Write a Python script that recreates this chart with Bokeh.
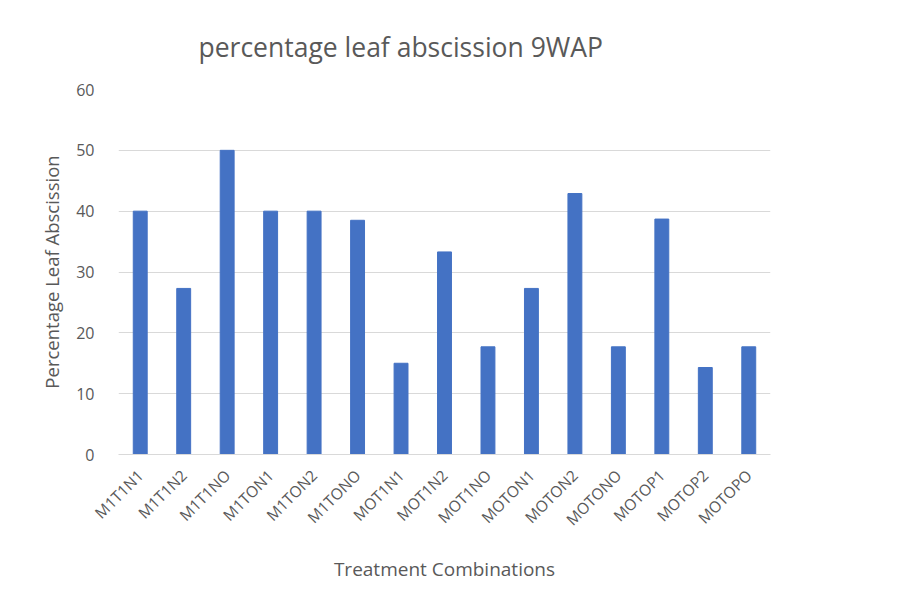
from bokeh.plotting import figure
from bokeh.models import Range1d, FactorRange, Title
from bokeh.embed import file_html
from bokeh.resources import INLINE
from math import pi

treatments = ["M1T1N1", "M1T1N2", "M1T1NO", "M1TON1", "M1TON2", "M1TONO",
              "MOT1N1", "MOT1N2", "MOT1NO", "MOTON1", "MOTON2", "MOTONO",
              "MOTOP1", "MOTOP2", "MOTOPO"]
abscission = [40.0, 27.3, 50.0, 40.0, 40.0, 38.5,
              15.0, 33.3, 17.7, 27.3, 42.9, 17.7,
              38.7, 14.3, 17.7]
y_ticks = [0, 10, 20, 30, 40, 50, 60]

FONT = "Open Sans"
GREY = "#595959"

p = figure(width=896, height=588, x_range=FactorRange(factors=treatments),
           y_range=Range1d(0, 60), output_backend="svg", toolbar_location=None,
           min_border_left=118, min_border_right=126, min_border_top=89,
           min_border_bottom=134)
p.outline_line_color = None

p.vbar(x=treatments, top=abscission, width=0.32, color="#4472C4")

t = Title(text="percentage leaf abscission 9WAP", align="left", offset=80,
          standoff=50, text_font=FONT, text_font_size="26.5px",
          text_font_style="normal", text_color=GREY)
p.title = t

p.yaxis.ticker = y_ticks
p.yaxis.axis_line_color = None
p.yaxis.major_tick_line_color = None
p.yaxis.minor_tick_line_color = None
p.yaxis.major_label_standoff = 18
p.yaxis.major_label_text_font = FONT
p.yaxis.major_label_text_font_size = "16px"
p.yaxis.major_label_text_color = GREY
p.yaxis.axis_label = "Percentage Leaf Abscission"
p.yaxis.axis_label_text_font = FONT
p.yaxis.axis_label_text_font_size = "18.5px"
p.yaxis.axis_label_text_font_style = "normal"
p.yaxis.axis_label_text_color = GREY
p.yaxis.axis_label_standoff = 9

p.xaxis.axis_line_color = "#d9d9d9"
p.xaxis.major_tick_line_color = None
p.xaxis.minor_tick_line_color = None
p.xaxis.major_label_orientation = pi / 4
p.xaxis.major_label_standoff = 12
p.xaxis.major_label_text_font = FONT
p.xaxis.major_label_text_font_size = "15.5px"
p.xaxis.major_label_text_color = GREY
p.xaxis.axis_label = "Treatment Combinations"
p.xaxis.axis_label_text_font = FONT
p.xaxis.axis_label_text_font_size = "19px"
p.xaxis.axis_label_text_font_style = "normal"
p.xaxis.axis_label_text_color = GREY
p.xaxis.axis_label_standoff = 15

p.xgrid.grid_line_color = None
p.ygrid.grid_line_color = "#d9d9d9"
p.ygrid.grid_line_width = 1

open("out.html", "w").write(file_html(p, INLINE))
